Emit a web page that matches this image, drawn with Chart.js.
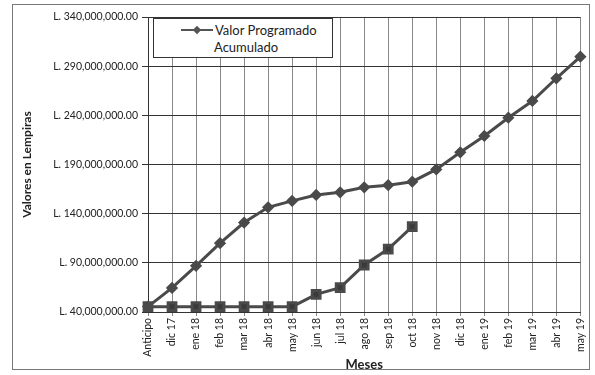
<!DOCTYPE html>
<html>
<head>
<meta charset="utf-8">
<script src="https://cdn.jsdelivr.net/npm/chart.js@4"></script>
<style>
  html, body { margin: 0; padding: 0; background: #fff; }
  #wrap { position: relative; width: 595px; height: 375px; }
  #frame { position: absolute; left: 12px; top: 4px; width: 578px; height: 366px; border: 1px solid #777; box-sizing: border-box; pointer-events: none; }
  #legend { position: absolute; left: 153px; top: 18px; width: 180px; height: 40px; border: 1px solid #333; background: #fff; box-sizing: border-box;
            font-family: Lato, "Open Sans", sans-serif; font-size: 13px; color: #222; }
  #legend .row1 { position: absolute; left: 27px; top: 3px; display: flex; align-items: center; white-space: nowrap; }
  #legend .sym { position: relative; width: 32px; height: 10px; margin-right: 2px; }
  #legend .sym::before { content: ""; position: absolute; left: 0; right: 0; top: 4px; border-top: 2px solid #555; }
  #legend .sym::after { content: ""; position: absolute; left: 13px; top: 2px; width: 6px; height: 6px; background: #555; transform: rotate(45deg); }
  #legend .row2 { position: absolute; left: 60px; top: 20px; white-space: nowrap; }
</style>
</head>
<body>
<div id="wrap">
  <canvas id="chart" width="595" height="375"></canvas>
  <div id="frame"></div>
  <div id="legend"><div class="row1"><span class="sym"></span>Valor Programado</div><div class="row2">Acumulado</div></div>
</div>
<script>
// ---------------------------------------------------------------------------
// Data
// ---------------------------------------------------------------------------
const meses = ["Anticipo", "dic 17", "ene 18", "feb 18", "mar 18", "abr 18", "may 18", "jun 18", "jul 18",
  "ago 18", "sep 18", "oct 18", "nov 18", "dic 18", "ene 19", "feb 19", "mar 19", "abr 19", "may 19"];

const programado = [45500000, 64500000, 87000000, 110000000, 131000000, 146500000, 153000000, 159000000, 161700000,
  166800000, 169000000, 172500000, 185000000, 202400000, 219000000, 237600000, 254600000, 277700000, 299700000];

const ejecutado = [45400000, 45400000, 45400000, 45400000, 45400000, 45400000, 45400000, 58000000, 64700000,
  87800000, 104000000, 126800000];

const yTicks = { min: 40000000, max: 340000000, step: 50000000 };

const fmtL = v => "L. " + v.toLocaleString("en-US", { minimumFractionDigits: 2, maximumFractionDigits: 2 });

// ---------------------------------------------------------------------------
// Chart
// ---------------------------------------------------------------------------
const FONT = "Lato, 'Open Sans', sans-serif";

new Chart(document.getElementById("chart"), {
  type: "line",
  data: {
    labels: meses,
    datasets: [
      {
        label: "Valor Programado Acumulado",
        data: programado,
        borderColor: "#4a4a4a",
        backgroundColor: "#4a4a4a",
        borderWidth: 3,
        pointStyle: "rectRot",
        pointRadius: 4,
        tension: 0,
      },
      {
        label: "Valor Ejecutado Acumulado",
        data: ejecutado,
        borderColor: "#4a4a4a",
        backgroundColor: "#3a3a3a",
        borderWidth: 3,
        pointStyle: "rect",
        pointRadius: 5.5,
        tension: 0,
      }
    ]
  },
  options: {
    responsive: false,
    animation: false,
    layout: { padding: { left: 20, right: 12, top: 17, bottom: 2 } },
    plugins: { legend: { display: false }, tooltip: { enabled: false } },
    scales: {
      x: {
        offset: false,
        grid: { color: "#888", lineWidth: 1, tickLength: 4 },
        border: { color: "#333" },
        ticks: { maxRotation: 90, minRotation: 90, autoSkip: false, color: "#222", font: { family: FONT, size: 10.5 }, padding: 2 },
        title: { display: true, text: "Meses", color: "#222", font: { family: FONT, size: 13, weight: "bold" }, padding: { top: 0, bottom: 0 } },
        afterFit: s => { s.height = 61; },
      },
      y: {
        min: yTicks.min,
        max: yTicks.max,
        grid: { color: "#333", lineWidth: 1, tickLength: 6 },
        border: { color: "#333" },
        ticks: { stepSize: yTicks.step, color: "#222", font: { family: FONT, size: 10.5 }, padding: 4, callback: v => fmtL(v) },
        title: { display: true, text: "Valores en Lempiras", color: "#222", font: { family: FONT, size: 12, weight: "bold" }, padding: { top: 0, bottom: 0 } },
        afterFit: s => { s.width = 128; },
      }
    }
  }
});
</script>
</body>
</html>
